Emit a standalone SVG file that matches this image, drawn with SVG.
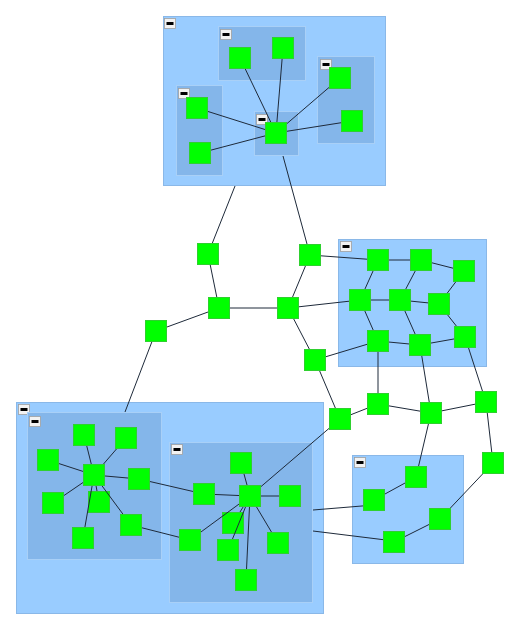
<svg xmlns="http://www.w3.org/2000/svg" width="519" height="629" viewBox="0 0 519 629">
<defs>
<style>
.go{fill:#99CCFF;stroke:#8AB8E8;stroke-width:1}
.gi{fill:#84B6EA;stroke:#A9D0F7;stroke-width:1}
.n rect{fill:#00FF00;stroke:#2FD02F;stroke-width:1}
#edges line{stroke:#1E2A3A;stroke-width:1}
</style>
<g id="icon"><rect x="0.5" y="0.5" width="11" height="10" fill="#F2F2F2" stroke="#A0A0A0" stroke-width="0.8"/><rect x="2.5" y="4" width="7" height="3" fill="#000000"/></g>
</defs>

<g id="groups">
<g id="g-top"><rect class="go" x="163.5" y="16.5" width="222" height="169"/><use href="#icon" x="164" y="18"/></g>
<g id="g-topA"><rect class="gi" x="218.5" y="26.5" width="87" height="54"/><use href="#icon" x="220" y="29"/></g>
<g id="g-topB"><rect class="gi" x="317.5" y="56.5" width="57" height="87"/><use href="#icon" x="320" y="59"/></g>
<g id="g-topC"><rect class="gi" x="176.5" y="85.5" width="46" height="90"/><use href="#icon" x="178" y="88"/></g>
<g id="g-topD"><rect class="gi" x="254.5" y="111.5" width="44" height="44"/><use href="#icon" x="256" y="114"/></g>
<g id="g-right"><rect class="go" x="338.5" y="239.5" width="148" height="127"/><use href="#icon" x="340" y="241"/></g>
<g id="g-lowright"><rect class="go" x="352.5" y="455.5" width="111" height="108"/><use href="#icon" x="354" y="457"/></g>
<g id="g-bottom"><rect class="go" x="16.5" y="402.5" width="307" height="211"/><use href="#icon" x="18" y="404"/></g>
<g id="g-botL"><rect class="gi" x="27.5" y="412.5" width="134" height="147"/><use href="#icon" x="29" y="416"/></g>
<g id="g-botR"><rect class="gi" x="169.5" y="442.5" width="143" height="160"/><use href="#icon" x="171" y="444"/></g>
</g>

<g id="nodes-under">
<g id="L6" class="n"><rect x="88.5" y="491.5" width="21" height="21"/></g>
<g id="M4" class="n"><rect x="222.5" y="512.5" width="21" height="21"/></g>
</g>

<g id="edges">
<line x1="276" y1="133" x2="240" y2="58"/>
<line x1="276" y1="133" x2="283" y2="48"/>
<line x1="276" y1="133" x2="340" y2="78"/>
<line x1="276" y1="133" x2="352" y2="121"/>
<line x1="276" y1="133" x2="197" y2="108"/>
<line x1="276" y1="133" x2="200" y2="153"/>
<line x1="235" y1="186" x2="208" y2="254"/>
<line x1="283" y1="156" x2="310" y2="255"/>
<line x1="208" y1="254" x2="219" y2="308"/>
<line x1="310" y1="255" x2="288" y2="308"/>
<line x1="219" y1="308" x2="288" y2="308"/>
<line x1="219" y1="308" x2="156" y2="331"/>
<line x1="156" y1="331" x2="125" y2="412"/>
<line x1="288" y1="308" x2="315" y2="360"/>
<line x1="315" y1="360" x2="340" y2="419"/>
<line x1="310" y1="255" x2="378" y2="260"/>
<line x1="288" y1="308" x2="360" y2="300"/>
<line x1="315" y1="360" x2="378" y2="341"/>
<line x1="378" y1="260" x2="421" y2="260"/>
<line x1="421" y1="260" x2="464" y2="271"/>
<line x1="378" y1="260" x2="360" y2="300"/>
<line x1="421" y1="260" x2="400" y2="300"/>
<line x1="464" y1="271" x2="439" y2="304"/>
<line x1="360" y1="300" x2="400" y2="300"/>
<line x1="400" y1="300" x2="439" y2="304"/>
<line x1="360" y1="300" x2="378" y2="341"/>
<line x1="400" y1="300" x2="420" y2="345"/>
<line x1="439" y1="304" x2="465" y2="337"/>
<line x1="378" y1="341" x2="420" y2="345"/>
<line x1="420" y1="345" x2="465" y2="337"/>
<line x1="378" y1="341" x2="378" y2="404"/>
<line x1="420" y1="345" x2="431" y2="413"/>
<line x1="465" y1="337" x2="486" y2="402"/>
<line x1="378" y1="404" x2="431" y2="413"/>
<line x1="431" y1="413" x2="486" y2="402"/>
<line x1="340" y1="419" x2="378" y2="404"/>
<line x1="431" y1="413" x2="416" y2="477"/>
<line x1="486" y1="402" x2="493" y2="463"/>
<line x1="493" y1="463" x2="440" y2="519"/>
<line x1="440" y1="519" x2="394" y2="542"/>
<line x1="416" y1="477" x2="374" y2="500"/>
<line x1="313" y1="510" x2="374" y2="505"/>
<line x1="313" y1="531" x2="394" y2="541"/>
<line x1="94" y1="475" x2="84" y2="435"/>
<line x1="94" y1="475" x2="126" y2="438"/>
<line x1="94" y1="475" x2="48" y2="460"/>
<line x1="94" y1="475" x2="139" y2="479"/>
<line x1="94" y1="475" x2="53" y2="503"/>
<line x1="94" y1="475" x2="97" y2="491"/>
<line x1="94" y1="475" x2="131" y2="525"/>
<line x1="94" y1="475" x2="83" y2="538"/>
<line x1="139" y1="479" x2="204" y2="494"/>
<line x1="131" y1="525" x2="190" y2="540"/>
<line x1="250" y1="496" x2="241" y2="463"/>
<line x1="250" y1="496" x2="204" y2="494"/>
<line x1="250" y1="496" x2="290" y2="496"/>
<line x1="250" y1="496" x2="240" y2="512"/>
<line x1="250" y1="496" x2="190" y2="540"/>
<line x1="250" y1="496" x2="228" y2="550"/>
<line x1="250" y1="496" x2="278" y2="543"/>
<line x1="250" y1="496" x2="246" y2="580"/>
<line x1="250" y1="496" x2="340" y2="419"/>
</g>

<g id="nodes">
<g id="A1" class="n"><rect x="229.5" y="47.5" width="21" height="21"/></g>
<g id="A2" class="n"><rect x="272.5" y="37.5" width="21" height="21"/></g>
<g id="B1" class="n"><rect x="329.5" y="67.5" width="21" height="21"/></g>
<g id="B2" class="n"><rect x="341.5" y="110.5" width="21" height="21"/></g>
<g id="C1" class="n"><rect x="186.5" y="97.5" width="21" height="21"/></g>
<g id="C2" class="n"><rect x="189.5" y="142.5" width="21" height="21"/></g>
<g id="D1" class="n"><rect x="265.5" y="122.5" width="21" height="21"/></g>
<g id="N1" class="n"><rect x="197.5" y="243.5" width="21" height="21"/></g>
<g id="N2" class="n"><rect x="299.5" y="244.5" width="21" height="21"/></g>
<g id="N3" class="n"><rect x="208.5" y="297.5" width="21" height="21"/></g>
<g id="N4" class="n"><rect x="277.5" y="297.5" width="21" height="21"/></g>
<g id="N5" class="n"><rect x="145.5" y="320.5" width="21" height="21"/></g>
<g id="N6" class="n"><rect x="304.5" y="349.5" width="21" height="21"/></g>
<g id="N7" class="n"><rect x="329.5" y="408.5" width="21" height="21"/></g>
<g id="R1" class="n"><rect x="367.5" y="249.5" width="21" height="21"/></g>
<g id="R2" class="n"><rect x="410.5" y="249.5" width="21" height="21"/></g>
<g id="R3" class="n"><rect x="453.5" y="260.5" width="21" height="21"/></g>
<g id="R4" class="n"><rect x="349.5" y="289.5" width="21" height="21"/></g>
<g id="R5" class="n"><rect x="389.5" y="289.5" width="21" height="21"/></g>
<g id="R6" class="n"><rect x="428.5" y="293.5" width="21" height="21"/></g>
<g id="R7" class="n"><rect x="367.5" y="330.5" width="21" height="21"/></g>
<g id="R8" class="n"><rect x="409.5" y="334.5" width="21" height="21"/></g>
<g id="R9" class="n"><rect x="454.5" y="326.5" width="21" height="21"/></g>
<g id="S1" class="n"><rect x="367.5" y="393.5" width="21" height="21"/></g>
<g id="S2" class="n"><rect x="420.5" y="402.5" width="21" height="21"/></g>
<g id="S3" class="n"><rect x="475.5" y="391.5" width="21" height="21"/></g>
<g id="U1" class="n"><rect x="482.5" y="452.5" width="21" height="21"/></g>
<g id="T1" class="n"><rect x="405.5" y="466.5" width="21" height="21"/></g>
<g id="T2" class="n"><rect x="363.5" y="489.5" width="21" height="21"/></g>
<g id="T3" class="n"><rect x="429.5" y="508.5" width="21" height="21"/></g>
<g id="T4" class="n"><rect x="383.5" y="531.5" width="21" height="21"/></g>
<g id="L1" class="n"><rect x="73.5" y="424.5" width="21" height="21"/></g>
<g id="L2" class="n"><rect x="115.5" y="427.5" width="21" height="21"/></g>
<g id="L3" class="n"><rect x="37.5" y="449.5" width="21" height="21"/></g>
<g id="L4" class="n"><rect x="128.5" y="468.5" width="21" height="21"/></g>
<g id="L5" class="n"><rect x="42.5" y="492.5" width="21" height="21"/></g>
<g id="L7" class="n"><rect x="120.5" y="514.5" width="21" height="21"/></g>
<g id="L8" class="n"><rect x="72.5" y="527.5" width="21" height="21"/></g>
<g id="LH" class="n"><rect x="83.5" y="464.5" width="21" height="21"/></g>
<g id="M1" class="n"><rect x="230.5" y="452.5" width="21" height="21"/></g>
<g id="M2" class="n"><rect x="193.5" y="483.5" width="21" height="21"/></g>
<g id="M3" class="n"><rect x="279.5" y="485.5" width="21" height="21"/></g>
<g id="M5" class="n"><rect x="179.5" y="529.5" width="21" height="21"/></g>
<g id="M6" class="n"><rect x="217.5" y="539.5" width="21" height="21"/></g>
<g id="M7" class="n"><rect x="267.5" y="532.5" width="21" height="21"/></g>
<g id="M8" class="n"><rect x="235.5" y="569.5" width="21" height="21"/></g>
<g id="MH" class="n"><rect x="239.5" y="485.5" width="21" height="21"/></g>
</g>
</svg>
